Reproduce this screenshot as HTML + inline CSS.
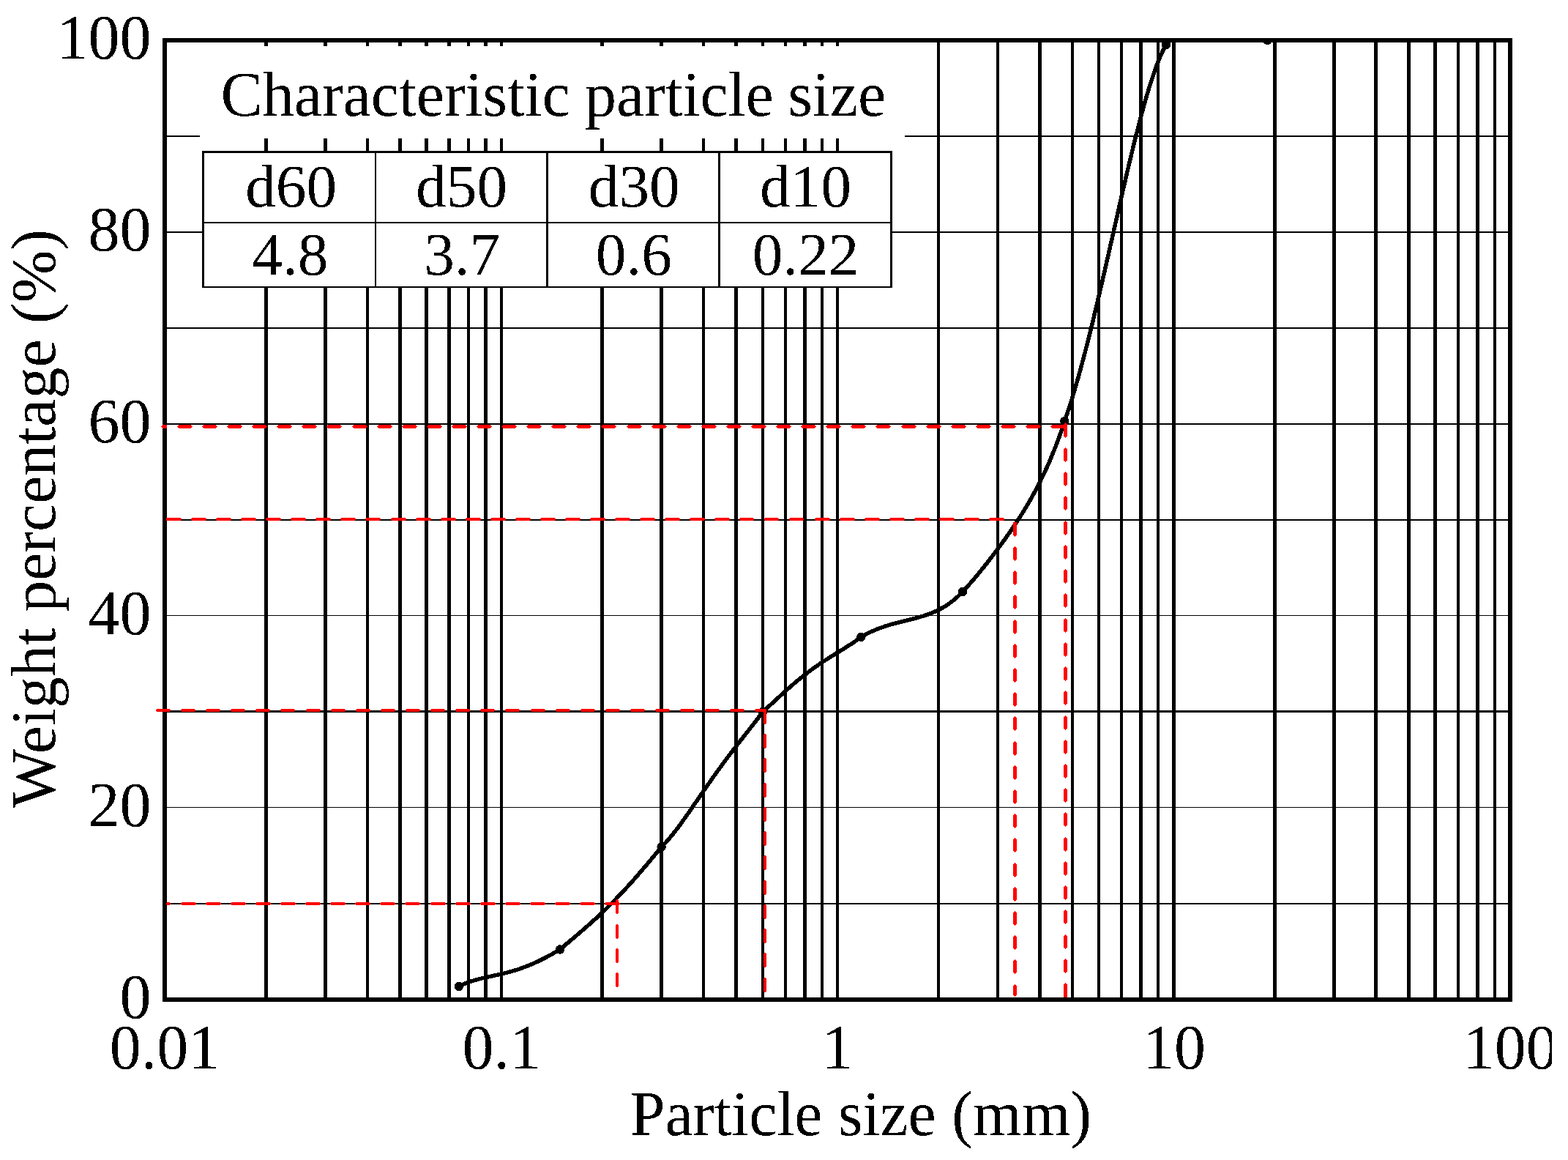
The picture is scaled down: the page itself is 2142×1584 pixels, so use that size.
<!DOCTYPE html>
<html lang="en"><head><meta charset="utf-8"><title>Particle size distribution curve</title>
<style>html,body{margin:0;padding:0;background:#fff;overflow:hidden}svg{display:block}text{font-family:"Liberation Serif","Times New Roman",Times,serif;fill:#000}</style>
</head><body>
<svg width="2142" height="1584" viewBox="0 0 2142 1584">
<rect x="0" y="0" width="2142" height="1584" fill="#fff"/>
<defs><filter id="bw" filterUnits="userSpaceOnUse" x="0" y="0" width="2142" height="1584" color-interpolation-filters="sRGB"><feComponentTransfer><feFuncA type="discrete" tableValues="0 1"/></feComponentTransfer></filter></defs>
<g fill="#000" shape-rendering="crispEdges">
<rect x="225" y="185" width="1838" height="2"/>
<rect x="225" y="316" width="1838" height="2"/>
<rect x="225" y="447" width="1838" height="2"/>
<rect x="225" y="578" width="1838" height="2"/>
<rect x="225" y="709" width="1838" height="2"/>
<rect x="225" y="840" width="1838" height="1"/>
<rect x="225" y="970" width="1838" height="3"/>
<rect x="225" y="1102" width="1838" height="1"/>
<rect x="225" y="1233" width="1838" height="2"/>
<rect x="361" y="55" width="5" height="1310"/>
<rect x="442" y="55" width="5" height="1310"/>
<rect x="500" y="55" width="4" height="1310"/>
<rect x="544" y="55" width="5" height="1310"/>
<rect x="580" y="55" width="5" height="1310"/>
<rect x="611" y="55" width="5" height="1310"/>
<rect x="638" y="55" width="4" height="1310"/>
<rect x="661" y="55" width="5" height="1310"/>
<rect x="683" y="55" width="4" height="1310"/>
<rect x="820" y="55" width="5" height="1310"/>
<rect x="901" y="55" width="5" height="1310"/>
<rect x="959" y="55" width="4" height="1310"/>
<rect x="1003" y="55" width="5" height="1310"/>
<rect x="1040" y="55" width="4" height="1310"/>
<rect x="1071" y="55" width="4" height="1310"/>
<rect x="1097" y="55" width="5" height="1310"/>
<rect x="1121" y="55" width="4" height="1310"/>
<rect x="1142" y="55" width="4" height="1310"/>
<rect x="1280" y="55" width="4" height="1310"/>
<rect x="1361" y="55" width="4" height="1310"/>
<rect x="1418" y="55" width="5" height="1310"/>
<rect x="1463" y="55" width="4" height="1310"/>
<rect x="1499" y="55" width="4" height="1310"/>
<rect x="1530" y="55" width="4" height="1310"/>
<rect x="1556" y="55" width="5" height="1310"/>
<rect x="1580" y="55" width="4" height="1310"/>
<rect x="1601" y="55" width="5" height="1310"/>
<rect x="1739" y="55" width="5" height="1310"/>
<rect x="1820" y="55" width="5" height="1310"/>
<rect x="1877" y="55" width="5" height="1310"/>
<rect x="1922" y="55" width="5" height="1310"/>
<rect x="1958" y="55" width="5" height="1310"/>
<rect x="1990" y="55" width="4" height="1310"/>
<rect x="2016" y="55" width="5" height="1310"/>
<rect x="2040" y="55" width="4" height="1310"/>
<rect x="222" y="52" width="6" height="1316"/>
<rect x="2060" y="52" width="6" height="1316"/>
<rect x="222" y="52" width="1844" height="6"/>
<rect x="222" y="1362" width="1844" height="6"/>
</g>
<clipPath id="plotclip"><rect x="222" y="52" width="1844" height="1316"/></clipPath>
<g clip-path="url(#plotclip)" shape-rendering="crispEdges">
<polyline points="626.8,1347.0 628.1,1346.3 629.5,1345.7 630.8,1345.0 632.2,1344.4 633.6,1343.8 635.0,1343.2 636.3,1342.7 637.7,1342.1 639.1,1341.6 640.6,1341.1 642.0,1340.6 643.4,1340.1 644.8,1339.7 646.3,1339.2 647.7,1338.8 649.1,1338.4 650.6,1338.0 652.0,1337.6 653.5,1337.2 654.9,1336.8 656.4,1336.5 657.8,1336.1 659.3,1335.7 660.7,1335.4 662.2,1335.1 663.7,1334.7 665.1,1334.4 666.6,1334.1 668.1,1333.7 669.5,1333.4 671.0,1333.1 672.4,1332.8 673.9,1332.5 675.4,1332.1 676.8,1331.8 678.3,1331.5 679.8,1331.2 681.2,1330.8 682.7,1330.5 684.2,1330.1 685.6,1329.8 687.1,1329.5 688.5,1329.1 690.0,1328.7 691.4,1328.4 692.9,1328.0 694.3,1327.6 695.8,1327.2 697.2,1326.8 698.7,1326.4 700.1,1326.0 701.6,1325.6 703.0,1325.1 704.4,1324.7 705.9,1324.3 707.3,1323.8 708.7,1323.3 710.2,1322.9 711.6,1322.4 713.0,1321.9 714.4,1321.4 715.8,1320.8 717.2,1320.3 718.6,1319.8 720.0,1319.2 721.4,1318.7 722.8,1318.1 724.2,1317.6 725.6,1317.0 727.0,1316.4 728.3,1315.8 729.7,1315.2 731.1,1314.6 732.4,1313.9 733.8,1313.3 735.2,1312.7 736.5,1312.0 737.9,1311.4 739.2,1310.7 740.6,1310.0 741.9,1309.3 743.2,1308.7 744.6,1308.0 745.9,1307.3 747.2,1306.6 748.5,1305.9 749.9,1305.1 751.2,1304.4 752.5,1303.7 753.8,1303.0 755.1,1302.2 756.4,1301.5 757.7,1300.8 759.0,1300.0 760.3,1299.3 761.6,1298.5 762.9,1297.8 764.2,1297.0 765.5,1296.1 766.7,1295.2 767.8,1294.2 768.9,1293.2 770.1,1292.2 771.2,1291.3 772.3,1290.3 773.5,1289.3 774.6,1288.3 775.8,1287.4 776.9,1286.4 778.1,1285.4 779.2,1284.4 780.3,1283.5 781.5,1282.5 782.6,1281.5 783.8,1280.6 784.9,1279.6 786.1,1278.6 787.2,1277.7 788.4,1276.7 789.5,1275.7 790.6,1274.7 791.8,1273.8 792.9,1272.8 794.1,1271.8 795.2,1270.8 796.3,1269.8 797.5,1268.9 798.6,1267.9 799.7,1266.9 800.9,1265.9 802.0,1264.9 803.1,1263.9 804.2,1262.9 805.4,1261.9 806.5,1260.9 807.6,1259.9 808.7,1258.9 809.8,1257.9 810.9,1256.9 812.1,1255.9 813.2,1254.9 814.3,1253.9 815.4,1252.9 816.5,1251.9 817.6,1250.8 818.7,1249.8 819.8,1248.8 820.9,1247.8 822.0,1246.7 823.1,1245.7 824.1,1244.7 825.2,1243.6 826.3,1242.6 827.4,1241.6 828.5,1240.5 829.5,1239.5 830.6,1238.4 831.7,1237.4 832.8,1236.3 833.8,1235.3 834.9,1234.2 835.9,1233.1 837.0,1232.1 838.1,1231.0 839.1,1229.9 840.2,1228.9 841.2,1227.8 842.2,1226.7 843.3,1225.6 844.3,1224.5 845.4,1223.5 846.4,1222.4 847.4,1221.3 848.5,1220.2 849.5,1219.1 850.5,1218.0 851.5,1216.9 852.6,1215.8 853.6,1214.7 854.6,1213.6 855.6,1212.5 856.6,1211.4 857.6,1210.3 858.7,1209.2 859.7,1208.1 860.7,1206.9 861.7,1205.8 862.7,1204.7 863.7,1203.6 864.7,1202.5 865.7,1201.4 866.7,1200.2 867.6,1199.1 868.6,1198.0 869.6,1196.8 870.6,1195.7 871.6,1194.6 872.6,1193.4 873.6,1192.3 874.5,1191.2 875.5,1190.0 876.5,1188.9 877.5,1187.8 878.4,1186.6 879.4,1185.5 880.4,1184.3 881.4,1183.2 882.3,1182.0 883.3,1180.9 884.3,1179.7 885.2,1178.6 886.2,1177.5 887.2,1176.3 888.1,1175.2 889.1,1174.0 890.0,1172.8 891.0,1171.7 892.0,1170.5 892.9,1169.4 893.9,1168.2 894.8,1167.1 895.8,1165.9 896.8,1164.8 897.7,1163.6 898.7,1162.5 899.6,1161.3 900.6,1160.1 901.5,1159.0 902.5,1157.8 903.4,1156.7 904.5,1155.6 905.6,1154.5 906.6,1153.5 907.7,1152.4 908.7,1151.3 909.7,1150.2 910.7,1149.1 911.7,1147.9 912.7,1146.8 913.7,1145.7 914.7,1144.5 915.7,1143.4 916.6,1142.2 917.6,1141.1 918.5,1139.9 919.5,1138.7 920.4,1137.5 921.3,1136.4 922.2,1135.2 923.2,1134.0 924.1,1132.8 925.0,1131.6 925.9,1130.4 926.8,1129.2 927.7,1128.0 928.6,1126.8 929.5,1125.6 930.3,1124.4 931.2,1123.2 932.1,1121.9 933.0,1120.7 933.8,1119.5 934.7,1118.3 935.6,1117.1 936.5,1115.8 937.3,1114.6 938.2,1113.4 939.0,1112.2 939.9,1110.9 940.8,1109.7 941.6,1108.5 942.5,1107.2 943.3,1106.0 944.2,1104.8 945.0,1103.5 945.9,1102.3 946.7,1101.1 947.6,1099.8 948.4,1098.6 949.3,1097.3 950.1,1096.1 951.0,1094.9 951.8,1093.6 952.7,1092.4 953.5,1091.2 954.4,1089.9 955.2,1088.7 956.1,1087.4 956.9,1086.2 957.8,1085.0 958.6,1083.7 959.5,1082.5 960.3,1081.3 961.2,1080.0 962.0,1078.8 962.9,1077.6 963.7,1076.3 964.6,1075.1 965.4,1073.9 966.3,1072.6 967.1,1071.4 968.0,1070.2 968.9,1068.9 969.7,1067.7 970.6,1066.5 971.4,1065.3 972.3,1064.0 973.2,1062.8 974.0,1061.6 974.9,1060.4 975.8,1059.1 976.6,1057.9 977.5,1056.7 978.4,1055.5 979.3,1054.2 980.1,1053.0 981.0,1051.8 981.9,1050.6 982.8,1049.4 983.7,1048.2 984.5,1047.0 985.4,1045.8 986.3,1044.5 987.2,1043.3 988.1,1042.1 989.0,1040.9 989.9,1039.7 990.8,1038.5 991.7,1037.3 992.6,1036.1 993.5,1034.9 994.4,1033.7 995.3,1032.5 996.2,1031.3 997.1,1030.1 998.0,1028.9 998.9,1027.7 999.8,1026.5 1000.7,1025.4 1001.6,1024.2 1002.5,1023.0 1003.5,1021.8 1004.4,1020.6 1005.3,1019.4 1006.2,1018.2 1007.1,1017.0 1008.1,1015.9 1009.0,1014.7 1009.9,1013.5 1010.8,1012.3 1011.7,1011.1 1012.7,1010.0 1013.6,1008.8 1014.5,1007.6 1015.5,1006.4 1016.4,1005.2 1017.3,1004.1 1018.2,1002.9 1019.2,1001.7 1020.1,1000.5 1021.0,999.3 1021.9,998.2 1022.9,997.0 1023.8,995.8 1024.7,994.6 1025.6,993.4 1026.6,992.3 1027.5,991.1 1028.4,989.9 1029.3,988.7 1030.3,987.5 1031.2,986.3 1032.1,985.2 1033.0,984.0 1033.9,982.8 1034.8,981.6 1035.7,980.4 1036.6,979.2 1037.5,978.0 1038.4,976.8 1039.3,975.6 1040.2,974.4 1041.1,973.2 1042.0,972.0 1043.1,971.0 1044.3,970.0 1045.4,969.0 1046.5,968.0 1047.6,967.0 1048.7,965.9 1049.8,964.9 1050.9,963.9 1052.0,962.9 1053.1,961.9 1054.2,960.9 1055.3,959.9 1056.4,958.8 1057.5,957.8 1058.6,956.8 1059.7,955.8 1060.8,954.8 1061.9,953.8 1063.1,952.7 1064.2,951.7 1065.3,950.7 1066.4,949.7 1067.5,948.7 1068.6,947.7 1069.7,946.7 1070.8,945.7 1071.9,944.7 1073.0,943.7 1074.2,942.7 1075.3,941.7 1076.4,940.7 1077.5,939.7 1078.6,938.7 1079.8,937.7 1080.9,936.7 1082.0,935.7 1083.2,934.7 1084.3,933.8 1085.4,932.8 1086.6,931.8 1087.7,930.9 1088.9,929.9 1090.0,928.9 1091.2,928.0 1092.4,927.0 1093.5,926.1 1094.7,925.2 1095.9,924.2 1097.0,923.3 1098.2,922.4 1099.4,921.4 1100.6,920.5 1101.8,919.6 1103.0,918.7 1104.1,917.8 1105.3,916.9 1106.5,916.0 1107.8,915.1 1109.0,914.2 1110.2,913.3 1111.4,912.5 1112.6,911.6 1113.8,910.7 1115.1,909.9 1116.3,909.0 1117.5,908.2 1118.8,907.3 1120.0,906.5 1121.2,905.6 1122.5,904.8 1123.7,904.0 1125.0,903.1 1126.3,902.3 1127.5,901.5 1128.8,900.7 1130.0,899.9 1131.3,899.1 1132.6,898.3 1133.8,897.5 1135.1,896.7 1136.4,895.9 1137.6,895.1 1138.9,894.3 1140.2,893.5 1141.5,892.7 1142.7,891.9 1144.0,891.2 1145.3,890.4 1146.6,889.6 1147.9,888.8 1149.1,888.0 1150.4,887.2 1151.7,886.4 1153.0,885.6 1154.2,884.8 1155.5,884.0 1156.8,883.2 1158.0,882.4 1159.3,881.6 1160.6,880.8 1161.8,880.0 1163.1,879.2 1164.3,878.4 1165.6,877.5 1166.8,876.7 1168.1,875.8 1169.3,875.0 1170.5,874.1 1171.8,873.2 1173.0,872.4 1174.2,871.5 1175.4,870.6 1176.6,869.7 1177.9,868.9 1179.2,868.2 1180.5,867.5 1181.8,866.8 1183.1,866.1 1184.5,865.4 1185.8,864.7 1187.1,864.0 1188.5,863.4 1189.8,862.7 1191.2,862.1 1192.6,861.5 1193.9,860.9 1195.3,860.3 1196.7,859.7 1198.1,859.2 1199.5,858.6 1200.9,858.1 1202.3,857.6 1203.7,857.1 1205.1,856.6 1206.5,856.1 1208.0,855.6 1209.4,855.1 1210.8,854.7 1212.2,854.2 1213.7,853.8 1215.1,853.4 1216.5,852.9 1218.0,852.5 1219.4,852.1 1220.9,851.7 1222.3,851.3 1223.8,850.9 1225.2,850.6 1226.7,850.2 1228.1,849.8 1229.6,849.4 1231.0,849.1 1232.5,848.7 1234.0,848.4 1235.4,848.0 1236.9,847.7 1238.3,847.3 1239.8,846.9 1241.2,846.6 1242.7,846.2 1244.1,845.9 1245.6,845.5 1247.1,845.1 1248.5,844.7 1250.0,844.4 1251.4,844.0 1252.9,843.6 1254.3,843.2 1255.7,842.8 1257.2,842.4 1258.6,841.9 1260.1,841.5 1261.5,841.1 1262.9,840.6 1264.4,840.1 1265.8,839.6 1267.2,839.1 1268.6,838.6 1270.0,838.1 1271.4,837.6 1272.8,837.0 1274.2,836.5 1275.6,835.9 1277.0,835.3 1278.3,834.7 1279.7,834.0 1281.0,833.4 1282.4,832.7 1283.7,832.0 1285.1,831.3 1286.4,830.6 1287.7,829.8 1289.0,829.1 1290.3,828.3 1291.6,827.5 1292.8,826.7 1294.1,825.9 1295.3,825.0 1296.6,824.2 1297.8,823.3 1299.0,822.4 1300.2,821.5 1301.4,820.6 1302.5,819.6 1303.7,818.7 1304.8,817.7 1306.0,816.7 1307.1,815.7 1308.2,814.7 1309.3,813.7 1310.4,812.6 1311.5,811.6 1312.5,810.5 1313.6,809.4 1314.6,808.3 1315.6,807.3 1316.7,806.2 1317.7,805.1 1318.7,804.0 1319.7,802.9 1320.7,801.8 1321.8,800.7 1322.8,799.5 1323.8,798.4 1324.8,797.3 1325.7,796.2 1326.7,795.0 1327.7,793.9 1328.7,792.8 1329.7,791.6 1330.7,790.5 1331.6,789.3 1332.6,788.2 1333.6,787.1 1334.5,785.9 1335.5,784.7 1336.4,783.6 1337.4,782.4 1338.3,781.3 1339.3,780.1 1340.2,778.9 1341.2,777.8 1342.1,776.6 1343.1,775.4 1344.0,774.3 1344.9,773.1 1345.9,771.9 1346.8,770.7 1347.7,769.6 1348.7,768.4 1349.6,767.2 1350.5,766.0 1351.4,764.8 1352.3,763.6 1353.3,762.5 1354.2,761.3 1355.1,760.1 1356.0,758.9 1356.9,757.7 1357.8,756.5 1358.7,755.3 1359.6,754.1 1360.5,752.9 1361.4,751.7 1362.3,750.5 1363.2,749.3 1364.1,748.1 1365.0,746.9 1365.9,745.7 1366.8,744.5 1367.7,743.3 1368.6,742.0 1369.4,740.8 1370.3,739.6 1371.2,738.4 1372.1,737.2 1372.9,736.0 1373.8,734.7 1374.7,733.5 1375.6,732.3 1376.4,731.1 1377.3,729.8 1378.1,728.6 1379.0,727.4 1379.9,726.1 1380.7,724.9 1381.6,723.7 1382.4,722.4 1383.2,721.2 1384.1,719.9 1384.9,718.7 1385.8,717.5 1386.6,716.2 1387.4,715.0 1388.3,713.7 1389.1,712.5 1389.9,711.2 1390.7,709.9 1391.5,708.7 1392.4,707.4 1393.2,706.2 1394.0,704.9 1394.8,703.6 1395.6,702.4 1396.4,701.1 1397.2,699.8 1398.0,698.5 1398.8,697.3 1399.5,696.0 1400.3,694.7 1401.1,693.4 1401.9,692.1 1402.6,690.8 1403.4,689.6 1404.2,688.3 1404.9,687.0 1405.7,685.7 1406.4,684.4 1407.2,683.1 1407.9,681.8 1408.7,680.5 1409.4,679.2 1410.1,677.8 1410.9,676.5 1411.6,675.2 1412.3,673.9 1413.0,672.6 1413.8,671.3 1414.5,669.9 1415.2,668.6 1415.9,667.3 1416.6,666.0 1417.3,664.6 1418.0,663.3 1418.6,662.0 1419.3,660.6 1420.0,659.3 1420.7,658.0 1421.4,656.6 1422.0,655.3 1422.7,653.9 1423.4,652.6 1424.0,651.2 1424.7,649.9 1425.3,648.5 1426.0,647.2 1426.6,645.8 1427.2,644.5 1427.9,643.1 1428.5,641.7 1429.1,640.4 1429.7,639.0 1430.4,637.6 1431.0,636.3 1431.6,634.9 1432.2,633.5 1432.8,632.2 1433.4,630.8 1434.0,629.4 1434.6,628.0 1435.2,626.6 1435.7,625.3 1436.3,623.9 1436.9,622.5 1437.5,621.1 1438.0,619.7 1438.6,618.3 1439.2,616.9 1439.7,615.5 1440.3,614.2 1440.8,612.8 1441.4,611.4 1441.9,610.0 1442.5,608.6 1443.0,607.2 1443.5,605.8 1444.1,604.4 1444.6,603.0 1445.1,601.6 1445.6,600.2 1446.2,598.7 1446.7,597.3 1447.2,595.9 1447.7,594.5 1448.2,593.1 1448.7,591.7 1449.2,590.3 1449.7,588.9 1450.2,587.5 1450.7,586.0 1451.2,584.6 1451.7,583.2 1452.1,581.8 1452.6,580.4 1453.1,578.9 1453.6,577.5 1454.0,576.1 1454.5,574.7 1455.0,573.3 1455.5,571.9 1456.0,570.4 1456.5,569.0 1456.9,567.6 1457.4,566.2 1457.9,564.8 1458.4,563.3 1458.8,561.9 1459.3,560.5 1459.8,559.1 1460.2,557.6 1460.7,556.2 1461.2,554.8 1461.6,553.4 1462.1,551.9 1462.5,550.5 1463.0,549.1 1463.4,547.6 1463.9,546.2 1464.3,544.8 1464.7,543.3 1465.2,541.9 1465.6,540.5 1466.1,539.0 1466.5,537.6 1466.9,536.2 1467.3,534.7 1467.8,533.3 1468.2,531.9 1468.6,530.4 1469.0,529.0 1469.5,527.6 1469.9,526.1 1470.3,524.7 1470.7,523.2 1471.1,521.8 1471.5,520.4 1471.9,518.9 1472.4,517.5 1472.8,516.0 1473.2,514.6 1473.6,513.1 1474.0,511.7 1474.4,510.3 1474.8,508.8 1475.2,507.4 1475.6,505.9 1476.0,504.5 1476.4,503.0 1476.8,501.6 1477.2,500.1 1477.5,498.7 1477.9,497.2 1478.3,495.8 1478.7,494.3 1479.1,492.9 1479.5,491.4 1479.9,490.0 1480.3,488.6 1480.6,487.1 1481.0,485.7 1481.4,484.2 1481.8,482.8 1482.2,481.3 1482.5,479.9 1482.9,478.4 1483.3,477.0 1483.7,475.5 1484.0,474.0 1484.4,472.6 1484.8,471.1 1485.1,469.7 1485.5,468.2 1485.9,466.8 1486.3,465.3 1486.6,463.9 1487.0,462.4 1487.4,461.0 1487.7,459.5 1488.1,458.1 1488.4,456.6 1488.8,455.2 1489.2,453.7 1489.5,452.2 1489.9,450.8 1490.3,449.3 1490.6,447.9 1491.0,446.4 1491.3,445.0 1491.7,443.5 1492.0,442.1 1492.4,440.6 1492.8,439.1 1493.1,437.7 1493.5,436.2 1493.8,434.8 1494.2,433.3 1494.5,431.9 1494.9,430.4 1495.2,428.9 1495.6,427.5 1495.9,426.0 1496.3,424.6 1496.6,423.1 1497.0,421.7 1497.3,420.2 1497.7,418.7 1498.0,417.3 1498.4,415.8 1498.7,414.4 1499.1,412.9 1499.4,411.4 1499.7,410.0 1500.1,408.5 1500.4,407.1 1500.8,405.6 1501.1,404.2 1501.5,402.7 1501.8,401.2 1502.1,399.8 1502.5,398.3 1502.8,396.9 1503.2,395.4 1503.5,393.9 1503.8,392.5 1504.2,391.0 1504.5,389.5 1504.9,388.1 1505.2,386.6 1505.5,385.2 1505.9,383.7 1506.2,382.2 1506.5,380.8 1506.9,379.3 1507.2,377.9 1507.6,376.4 1507.9,374.9 1508.2,373.5 1508.6,372.0 1508.9,370.6 1509.2,369.1 1509.6,367.6 1509.9,366.2 1510.2,364.7 1510.6,363.2 1510.9,361.8 1511.2,360.3 1511.6,358.9 1511.9,357.4 1512.2,355.9 1512.6,354.5 1512.9,353.0 1513.2,351.5 1513.6,350.1 1513.9,348.6 1514.2,347.2 1514.6,345.7 1514.9,344.2 1515.2,342.8 1515.6,341.3 1515.9,339.8 1516.2,338.4 1516.6,336.9 1516.9,335.5 1517.2,334.0 1517.5,332.5 1517.9,331.1 1518.2,329.6 1518.5,328.1 1518.9,326.7 1519.2,325.2 1519.5,323.8 1519.9,322.3 1520.2,320.8 1520.5,319.4 1520.9,317.9 1521.2,316.4 1521.5,315.0 1521.8,313.5 1522.2,312.0 1522.5,310.6 1522.8,309.1 1523.2,307.7 1523.5,306.2 1523.8,304.7 1524.2,303.3 1524.5,301.8 1524.8,300.3 1525.2,298.9 1525.5,297.4 1525.8,296.0 1526.2,294.5 1526.5,293.0 1526.8,291.6 1527.1,290.1 1527.5,288.6 1527.8,287.2 1528.1,285.7 1528.5,284.3 1528.8,282.8 1529.1,281.3 1529.5,279.9 1529.8,278.4 1530.1,276.9 1530.5,275.5 1530.8,274.0 1531.1,272.5 1531.5,271.1 1531.8,269.6 1532.1,268.2 1532.5,266.7 1532.8,265.2 1533.2,263.8 1533.5,262.3 1533.8,260.8 1534.2,259.4 1534.5,257.9 1534.8,256.5 1535.2,255.0 1535.5,253.5 1535.8,252.1 1536.2,250.6 1536.5,249.2 1536.9,247.7 1537.2,246.2 1537.5,244.8 1537.9,243.3 1538.2,241.8 1538.6,240.4 1538.9,238.9 1539.2,237.5 1539.6,236.0 1539.9,234.5 1540.3,233.1 1540.6,231.6 1541.0,230.2 1541.3,228.7 1541.7,227.2 1542.0,225.8 1542.3,224.3 1542.7,222.9 1543.0,221.4 1543.4,219.9 1543.7,218.5 1544.1,217.0 1544.4,215.6 1544.8,214.1 1545.1,212.6 1545.5,211.2 1545.8,209.7 1546.2,208.3 1546.5,206.8 1546.9,205.3 1547.3,203.9 1547.6,202.4 1548.0,201.0 1548.3,199.5 1548.7,198.0 1549.0,196.6 1549.4,195.1 1549.8,193.7 1550.1,192.2 1550.5,190.8 1550.9,189.3 1551.2,187.8 1551.6,186.4 1551.9,184.9 1552.3,183.5 1552.7,182.0 1553.1,180.6 1553.4,179.1 1553.8,177.7 1554.2,176.2 1554.5,174.8 1554.9,173.3 1555.3,171.8 1555.7,170.4 1556.0,168.9 1556.4,167.5 1556.8,166.0 1557.2,164.6 1557.6,163.1 1558.0,161.7 1558.3,160.2 1558.7,158.8 1559.1,157.3 1559.5,155.9 1559.9,154.4 1560.3,153.0 1560.7,151.5 1561.1,150.1 1561.5,148.6 1561.9,147.2 1562.3,145.7 1562.7,144.3 1563.1,142.8 1563.5,141.4 1563.9,140.0 1564.3,138.5 1564.7,137.1 1565.1,135.6 1565.6,134.2 1566.0,132.7 1566.4,131.3 1566.8,129.9 1567.2,128.4 1567.7,127.0 1568.1,125.5 1568.5,124.1 1569.0,122.7 1569.4,121.2 1569.8,119.8 1570.3,118.4 1570.7,116.9 1571.2,115.5 1571.6,114.1 1572.1,112.6 1572.6,111.2 1573.0,109.8 1573.5,108.3 1574.0,106.9 1574.4,105.5 1574.9,104.1 1575.4,102.6 1575.9,101.2 1576.4,99.8 1576.9,98.4 1577.4,97.0 1577.9,95.6 1578.4,94.1 1578.9,92.7 1579.4,91.3 1579.9,89.9 1580.5,88.5 1581.0,87.1 1581.5,85.7 1582.1,84.3 1582.6,82.9 1583.2,81.5 1583.8,80.1 1584.3,78.8 1584.9,77.4 1585.5,76.0 1586.1,74.6 1586.8,73.3 1587.4,71.9 1588.0,70.5 1588.7,69.2 1589.3,67.8 1590.0,66.5 1590.7,65.2 1591.4,63.9 1592.1,62.5 1592.9,61.2 1593.0,61.0" fill="none" stroke="#000" stroke-width="5.5" stroke-linejoin="round" stroke-linecap="round"/>
<circle cx="626.8" cy="1347.0" r="6.2" fill="#000"/>
<circle cx="765.1" cy="1296.5" r="6.2" fill="#000"/>
<circle cx="903.6" cy="1156.5" r="6.2" fill="#000"/>
<circle cx="1042" cy="972" r="6.2" fill="#000"/>
<circle cx="1176.4" cy="869.8" r="6.2" fill="#000"/>
<circle cx="1315.1" cy="807.8" r="6.2" fill="#000"/>
<circle cx="1454.4" cy="575" r="6.2" fill="#000"/>
<circle cx="1593" cy="61" r="6.2" fill="#000"/>
<circle cx="1731.4" cy="55" r="6.2" fill="#000"/>
</g>
<g fill="#f00" shape-rendering="crispEdges">
<path d="M220,582.5 220,582.5 222.5,580 228,580 228,585 222.5,585Z M242,582.5 242,582.5 244.5,580 260.5,580 263,582.5 263,582.5 260.5,585 244.5,585Z M276,582.5 276,582.5 278.5,580 294.5,580 297,582.5 297,582.5 294.5,585 278.5,585Z M310,582.5 310,582.5 312.5,580 328.5,580 331,582.5 331,582.5 328.5,585 312.5,585Z M344,582.5 344,582.5 346.5,580 362.5,580 365,582.5 365,582.5 362.5,585 346.5,585Z M378,582.5 378,582.5 380.5,580 396.5,580 399,582.5 399,582.5 396.5,585 380.5,585Z M412,582.5 412,582.5 414.5,580 430.5,580 433,582.5 433,582.5 430.5,585 414.5,585Z M446,582.5 446,582.5 448.5,580 464.5,580 467,582.5 467,582.5 464.5,585 448.5,585Z M481,582.5 481,582.5 483.5,580 499.5,580 502,582.5 502,582.5 499.5,585 483.5,585Z M515,582.5 515,582.5 517.5,580 533.5,580 536,582.5 536,582.5 533.5,585 517.5,585Z M549,582.5 549,582.5 551.5,580 567.5,580 570,582.5 570,582.5 567.5,585 551.5,585Z M583,582.5 583,582.5 585.5,580 601.5,580 604,582.5 604,582.5 601.5,585 585.5,585Z M617,582.5 617,582.5 619.5,580 635.5,580 638,582.5 638,582.5 635.5,585 619.5,585Z M651,582.5 651,582.5 653.5,580 669.5,580 672,582.5 672,582.5 669.5,585 653.5,585Z M685,582.5 685,582.5 687.5,580 703.5,580 706,582.5 706,582.5 703.5,585 687.5,585Z M719,582.5 719,582.5 721.5,580 737.5,580 740,582.5 740,582.5 737.5,585 721.5,585Z M753,582.5 753,582.5 755.5,580 771.5,580 774,582.5 774,582.5 771.5,585 755.5,585Z M787,582.5 787,582.5 789.5,580 805.5,580 808,582.5 808,582.5 805.5,585 789.5,585Z M821,582.5 821,582.5 823.5,580 839.5,580 842,582.5 842,582.5 839.5,585 823.5,585Z M856,582.5 856,582.5 858.5,580 874.5,580 877,582.5 877,582.5 874.5,585 858.5,585Z M890,582.5 890,582.5 892.5,580 908.5,580 911,582.5 911,582.5 908.5,585 892.5,585Z M924,582.5 924,582.5 926.5,580 942.5,580 945,582.5 945,582.5 942.5,585 926.5,585Z M958,582.5 958,582.5 960.5,580 976.5,580 979,582.5 979,582.5 976.5,585 960.5,585Z M992,582.5 992,582.5 994.5,580 1010,580 1013,582.5 1013,582.5 1010,585 994.5,585Z M1026,582.5 1026,582.5 1028,580 1044,580 1047,582.5 1047,582.5 1044,585 1028,585Z M1060,582.5 1060,582.5 1062,580 1078,580 1081,582.5 1081,582.5 1078,585 1062,585Z M1094,582.5 1094,582.5 1096,580 1112,580 1115,582.5 1115,582.5 1112,585 1096,585Z M1128,582.5 1128,582.5 1130,580 1146,580 1149,582.5 1149,582.5 1146,585 1130,585Z M1162,582.5 1162,582.5 1164,580 1180,580 1183,582.5 1183,582.5 1180,585 1164,585Z M1196,582.5 1196,582.5 1198,580 1214,580 1217,582.5 1217,582.5 1214,585 1198,585Z M1231,582.5 1231,582.5 1234,580 1250,580 1252,582.5 1252,582.5 1250,585 1234,585Z M1265,582.5 1265,582.5 1268,580 1284,580 1286,582.5 1286,582.5 1284,585 1268,585Z M1299,582.5 1299,582.5 1302,580 1318,580 1320,582.5 1320,582.5 1318,585 1302,585Z M1333,582.5 1333,582.5 1336,580 1352,580 1354,582.5 1354,582.5 1352,585 1336,585Z M1367,582.5 1367,582.5 1370,580 1386,580 1388,582.5 1388,582.5 1386,585 1370,585Z M1401,582.5 1401,582.5 1404,580 1420,580 1422,582.5 1422,582.5 1420,585 1404,585Z M1435,582.5 1435,582.5 1438,580 1454,580 1456,582.5 1456,582.5 1454,585 1438,585Z"/>
<path d="M227,711 227,707 246.3,707 247.5,708.2 247.5,709.8 246.3,711Z M261,709.8 261,708.2 262.2,707 280.3,707 281.5,708.2 281.5,709.8 280.3,711 262.2,711Z M295,709.8 295,708.2 296.2,707 314.3,707 315.5,708.2 315.5,709.8 314.3,711 296.2,711Z M329,709.8 329,708.2 330.2,707 348.3,707 349.5,708.2 349.5,709.8 348.3,711 330.2,711Z M363,709.8 363,708.2 364.2,707 382.3,707 383.5,708.2 383.5,709.8 382.3,711 364.2,711Z M397,709.8 397,708.2 398.2,707 416.3,707 417.5,708.2 417.5,709.8 416.3,711 398.2,711Z M431,709.8 431,708.2 432.2,707 450.3,707 451.5,708.2 451.5,709.8 450.3,711 432.2,711Z M465,709.8 465,708.2 466.2,707 484.3,707 485.5,708.2 485.5,709.8 484.3,711 466.2,711Z M499,709.8 499,708.2 500.2,707 518.3,707 519.5,708.2 519.5,709.8 518.3,711 500.2,711Z M534,709.8 534,708.2 535.2,707 553.3,707 554.5,708.2 554.5,709.8 553.3,711 535.2,711Z M568,709.8 568,708.2 569.2,707 587.3,707 588.5,708.2 588.5,709.8 587.3,711 569.2,711Z M602,709.8 602,708.2 603.2,707 621.3,707 622.5,708.2 622.5,709.8 621.3,711 603.2,711Z M636,709.8 636,708.2 637.2,707 655.3,707 656.5,708.2 656.5,709.8 655.3,711 637.2,711Z M670,709.8 670,708.2 671.2,707 689.3,707 690.5,708.2 690.5,709.8 689.3,711 671.2,711Z M704,709.8 704,708.2 705.2,707 723.3,707 724.5,708.2 724.5,709.8 723.3,711 705.2,711Z M738,709.8 738,708.2 739.2,707 757.3,707 758.5,708.2 758.5,709.8 757.3,711 739.2,711Z M772,709.8 772,708.2 773.2,707 791.3,707 792.5,708.2 792.5,709.8 791.3,711 773.2,711Z M806,709.8 806,708.2 807.2,707 825.3,707 826.5,708.2 826.5,709.8 825.3,711 807.2,711Z M840,709.8 840,708.2 841.2,707 859.3,707 860.5,708.2 860.5,709.8 859.3,711 841.2,711Z M874,709.8 874,708.2 875.2,707 893.3,707 894.5,708.2 894.5,709.8 893.3,711 875.2,711Z M908,709.8 908,708.2 909.2,707 927.3,707 928.5,708.2 928.5,709.8 927.3,711 909.2,711Z M942,709.8 942,708.2 943.2,707 961.3,707 962.5,708.2 962.5,709.8 961.3,711 943.2,711Z M976,709.8 976,708.2 977.2,707 995.3,707 996.5,708.2 996.5,709.8 995.3,711 977.2,711Z M1010,709.8 1010,708.2 1011,707 1029,707 1030,708.2 1030,709.8 1029,711 1011,711Z M1044,709.8 1044,708.2 1045,707 1063,707 1064,708.2 1064,709.8 1063,711 1045,711Z M1078,709.8 1078,708.2 1079,707 1097,707 1098,708.2 1098,709.8 1097,711 1079,711Z M1113,709.8 1113,708.2 1114,707 1132,707 1134,708.2 1134,709.8 1132,711 1114,711Z M1147,709.8 1147,708.2 1148,707 1166,707 1168,708.2 1168,709.8 1166,711 1148,711Z M1181,709.8 1181,708.2 1182,707 1200,707 1202,708.2 1202,709.8 1200,711 1182,711Z M1215,709.8 1215,708.2 1216,707 1234,707 1236,708.2 1236,709.8 1234,711 1216,711Z M1249,709.8 1249,708.2 1250,707 1268,707 1270,708.2 1270,709.8 1268,711 1250,711Z M1283,709.8 1283,708.2 1284,707 1302,707 1304,708.2 1304,709.8 1302,711 1284,711Z M1317,709.8 1317,708.2 1318,707 1336,707 1338,708.2 1338,709.8 1336,711 1318,711Z M1351,709.8 1351,708.2 1352,707 1370,707 1372,708.2 1372,709.8 1370,711 1352,711Z"/>
<path d="M212,970 212,970 214,968 231,968 233,970 233,970 231,972 214,972Z M246,970 246,970 248,968 265,968 267,970 267,970 265,972 248,972Z M280,970 280,970 282,968 299,968 301,970 301,970 299,972 282,972Z M314,970 314,970 316,968 333,968 335,970 335,970 333,972 316,972Z M348,970 348,970 350,968 367,968 369,970 369,970 367,972 350,972Z M382,970 382,970 384,968 401,968 403,970 403,970 401,972 384,972Z M417,970 417,970 419,968 436,968 438,970 438,970 436,972 419,972Z M451,970 451,970 453,968 470,968 472,970 472,970 470,972 453,972Z M485,970 485,970 487,968 504,968 506,970 506,970 504,972 487,972Z M519,970 519,970 521,968 538,968 540,970 540,970 538,972 521,972Z M553,970 553,970 555,968 572,968 574,970 574,970 572,972 555,972Z M587,970 587,970 589,968 606,968 608,970 608,970 606,972 589,972Z M621,970 621,970 623,968 640,968 642,970 642,970 640,972 623,972Z M655,970 655,970 657,968 674,968 676,970 676,970 674,972 657,972Z M689,970 689,970 691,968 708,968 710,970 710,970 708,972 691,972Z M724,970 724,970 726,968 743,968 745,970 745,970 743,972 726,972Z M758,970 758,970 760,968 777,968 779,970 779,970 777,972 760,972Z M792,970 792,970 794,968 811,968 813,970 813,970 811,972 794,972Z M826,970 826,970 828,968 845,968 847,970 847,970 845,972 828,972Z M860,970 860,970 862,968 879,968 881,970 881,970 879,972 862,972Z M894,970 894,970 896,968 913,968 915,970 915,970 913,972 896,972Z M928,970 928,970 930,968 947,968 949,970 949,970 947,972 930,972Z M962,970 962,970 964,968 981,968 983,970 983,970 981,972 964,972Z M996,970 996,970 998,968 1015,968 1017,970 1017,970 1015,972 998,972Z M1030,970 1030,970 1032,968 1047,968 1047,972 1032,972Z"/>
<path d="M227,1235 227,1233 228.2,1232 231.8,1232 233,1233 233,1235 231.8,1236 228.2,1236Z M247,1235 247,1233 248.2,1232 266.3,1232 267.5,1233 267.5,1235 266.3,1236 248.2,1236Z M281,1235 281,1233 282.2,1232 300.3,1232 301.5,1233 301.5,1235 300.3,1236 282.2,1236Z M315,1235 315,1233 316.2,1232 334.3,1232 335.5,1233 335.5,1235 334.3,1236 316.2,1236Z M349,1235 349,1233 350.2,1232 368.3,1232 369.5,1233 369.5,1235 368.3,1236 350.2,1236Z M383,1235 383,1233 384.2,1232 402.3,1232 403.5,1233 403.5,1235 402.3,1236 384.2,1236Z M417,1235 417,1233 418.2,1232 436.3,1232 437.5,1233 437.5,1235 436.3,1236 418.2,1236Z M451,1235 451,1233 452.2,1232 470.3,1232 471.5,1233 471.5,1235 470.3,1236 452.2,1236Z M485,1235 485,1233 486.2,1232 504.3,1232 505.5,1233 505.5,1235 504.3,1236 486.2,1236Z M519,1235 519,1233 520.2,1232 538.3,1232 539.5,1233 539.5,1235 538.3,1236 520.2,1236Z M553,1235 553,1233 554.2,1232 572.3,1232 573.5,1233 573.5,1235 572.3,1236 554.2,1236Z M588,1235 588,1233 589.2,1232 607.3,1232 608.5,1233 608.5,1235 607.3,1236 589.2,1236Z M622,1235 622,1233 623.2,1232 641.3,1232 642.5,1233 642.5,1235 641.3,1236 623.2,1236Z M656,1235 656,1233 657.2,1232 675.3,1232 676.5,1233 676.5,1235 675.3,1236 657.2,1236Z M690,1235 690,1233 691.2,1232 709.3,1232 710.5,1233 710.5,1235 709.3,1236 691.2,1236Z M724,1235 724,1233 725.2,1232 743.3,1232 744.5,1233 744.5,1235 743.3,1236 725.2,1236Z M758,1235 758,1233 759.2,1232 777.3,1232 778.5,1233 778.5,1235 777.3,1236 759.2,1236Z M792,1235 792,1233 793.2,1232 811.3,1232 812.5,1233 812.5,1235 811.3,1236 793.2,1236Z M826,1235 826,1233 827.2,1232 845.3,1232 846.5,1233 846.5,1235 845.3,1236 827.2,1236Z"/>
<path d="M1455.5,577 1455.5,577 1458,579.5 1458,595.5 1455.5,598 1455.5,598 1453,595.5 1453,579.5Z M1455.5,611 1455.5,611 1458,613.5 1458,628.8 1455.5,631.3 1455.5,631.3 1453,628.8 1453,613.5Z M1455.5,644 1455.5,644 1458,646.5 1458,661.8 1455.5,664.3 1455.5,664.3 1453,661.8 1453,646.5Z M1455.5,677 1455.5,677 1458,679.5 1458,694.8 1455.5,697.3 1455.5,697.3 1453,694.8 1453,679.5Z M1455.5,711 1455.5,711 1458,713.5 1458,728.8 1455.5,731.3 1455.5,731.3 1453,728.8 1453,713.5Z M1455.5,744 1455.5,744 1458,746.5 1458,761.8 1455.5,764.3 1455.5,764.3 1453,761.8 1453,746.5Z M1455.5,777 1455.5,777 1458,779.5 1458,794.8 1455.5,797.3 1455.5,797.3 1453,794.8 1453,779.5Z M1455.5,810 1455.5,810 1458,812.5 1458,827.8 1455.5,830.3 1455.5,830.3 1453,827.8 1453,812.5Z M1455.5,844 1455.5,844 1458,846.5 1458,861.8 1455.5,864.3 1455.5,864.3 1453,861.8 1453,846.5Z M1455.5,877 1455.5,877 1458,879.5 1458,894.8 1455.5,897.3 1455.5,897.3 1453,894.8 1453,879.5Z M1455.5,910 1455.5,910 1458,912.5 1458,927.8 1455.5,930.3 1455.5,930.3 1453,927.8 1453,912.5Z M1455.5,943 1455.5,943 1458,945.5 1458,960.8 1455.5,963.3 1455.5,963.3 1453,960.8 1453,945.5Z M1455.5,977 1455.5,977 1458,979.5 1458,994.8 1455.5,997.3 1455.5,997.3 1453,994.8 1453,979.5Z M1455.5,1010 1455.5,1010 1458,1012.5 1458,1027.8 1455.5,1030.3 1455.5,1030.3 1453,1027.8 1453,1012.5Z M1455.5,1043 1455.5,1043 1458,1045.5 1458,1060.8 1455.5,1063.3 1455.5,1063.3 1453,1060.8 1453,1045.5Z M1455.5,1076 1455.5,1076 1458,1078.5 1458,1093.8 1455.5,1096.3 1455.5,1096.3 1453,1093.8 1453,1078.5Z M1455.5,1109 1455.5,1109 1458,1111.5 1458,1126.8 1455.5,1129.3 1455.5,1129.3 1453,1126.8 1453,1111.5Z M1455.5,1143 1455.5,1143 1458,1145.5 1458,1160.8 1455.5,1163.3 1455.5,1163.3 1453,1160.8 1453,1145.5Z M1455.5,1176 1455.5,1176 1458,1178.5 1458,1193.8 1455.5,1196.3 1455.5,1196.3 1453,1193.8 1453,1178.5Z M1455.5,1209 1455.5,1209 1458,1211.5 1458,1226.8 1455.5,1229.3 1455.5,1229.3 1453,1226.8 1453,1211.5Z M1455.5,1242 1455.5,1242 1458,1244.5 1458,1259.8 1455.5,1262.3 1455.5,1262.3 1453,1259.8 1453,1244.5Z M1455.5,1276 1455.5,1276 1458,1278.5 1458,1293.8 1455.5,1296.3 1455.5,1296.3 1453,1293.8 1453,1278.5Z M1455.5,1309 1455.5,1309 1458,1311.5 1458,1326.8 1455.5,1329.3 1455.5,1329.3 1453,1326.8 1453,1311.5Z M1455.5,1342 1455.5,1342 1458,1344.5 1458,1362 1453,1362 1453,1344.5Z"/>
<path d="M1384,713 1389,713 1389,730.5 1386.5,733 1386.5,733 1384,730.5Z M1386.5,746 1386.5,746 1389,748.5 1389,763.8 1386.5,766.3 1386.5,766.3 1384,763.8 1384,748.5Z M1386.5,779 1386.5,779 1389,781.5 1389,796.8 1386.5,799.3 1386.5,799.3 1384,796.8 1384,781.5Z M1386.5,812 1386.5,812 1389,814.5 1389,829.8 1386.5,832.3 1386.5,832.3 1384,829.8 1384,814.5Z M1386.5,846 1386.5,846 1389,848.5 1389,863.8 1386.5,866.3 1386.5,866.3 1384,863.8 1384,848.5Z M1386.5,879 1386.5,879 1389,881.5 1389,896.8 1386.5,899.3 1386.5,899.3 1384,896.8 1384,881.5Z M1386.5,912 1386.5,912 1389,914.5 1389,929.8 1386.5,932.3 1386.5,932.3 1384,929.8 1384,914.5Z M1386.5,945 1386.5,945 1389,947.5 1389,962.8 1386.5,965.3 1386.5,965.3 1384,962.8 1384,947.5Z M1386.5,978 1386.5,978 1389,980.5 1389,995.8 1386.5,998.3 1386.5,998.3 1384,995.8 1384,980.5Z M1386.5,1012 1386.5,1012 1389,1014.5 1389,1029.8 1386.5,1032.3 1386.5,1032.3 1384,1029.8 1384,1014.5Z M1386.5,1045 1386.5,1045 1389,1047.5 1389,1062.8 1386.5,1065.3 1386.5,1065.3 1384,1062.8 1384,1047.5Z M1386.5,1078 1386.5,1078 1389,1080.5 1389,1095.8 1386.5,1098.3 1386.5,1098.3 1384,1095.8 1384,1080.5Z M1386.5,1111 1386.5,1111 1389,1113.5 1389,1128.8 1386.5,1131.3 1386.5,1131.3 1384,1128.8 1384,1113.5Z M1386.5,1144 1386.5,1144 1389,1146.5 1389,1161.8 1386.5,1164.3 1386.5,1164.3 1384,1161.8 1384,1146.5Z M1386.5,1178 1386.5,1178 1389,1180.5 1389,1195.8 1386.5,1198.3 1386.5,1198.3 1384,1195.8 1384,1180.5Z M1386.5,1211 1386.5,1211 1389,1213.5 1389,1228.8 1386.5,1231.3 1386.5,1231.3 1384,1228.8 1384,1213.5Z M1386.5,1244 1386.5,1244 1389,1246.5 1389,1261.8 1386.5,1264.3 1386.5,1264.3 1384,1261.8 1384,1246.5Z M1386.5,1277 1386.5,1277 1389,1279.5 1389,1294.8 1386.5,1297.3 1386.5,1297.3 1384,1294.8 1384,1279.5Z M1386.5,1310 1386.5,1310 1389,1312.5 1389,1327.8 1386.5,1330.3 1386.5,1330.3 1384,1327.8 1384,1312.5Z M1386.5,1344 1386.5,1344 1389,1346.5 1389,1358.5 1386.5,1361 1386.5,1361 1384,1358.5 1384,1346.5Z"/>
<path d="M1043,968 1047,968 1047,987.5 1045.5,989 1044.5,989 1043,987.5Z M1044.5,1002 1045.5,1002 1047,1003.5 1047,1020.5 1045.5,1022 1044.5,1022 1043,1020.5 1043,1003.5Z M1044.5,1035 1045.5,1035 1047,1036.5 1047,1053.5 1045.5,1055 1044.5,1055 1043,1053.5 1043,1036.5Z M1044.5,1069 1045.5,1069 1047,1070.5 1047,1087.5 1045.5,1089 1044.5,1089 1043,1087.5 1043,1070.5Z M1044.5,1102 1045.5,1102 1047,1103.5 1047,1120.5 1045.5,1122 1044.5,1122 1043,1120.5 1043,1103.5Z M1044.5,1135 1045.5,1135 1047,1136.5 1047,1153.5 1045.5,1155 1044.5,1155 1043,1153.5 1043,1136.5Z M1044.5,1168 1045.5,1168 1047,1169.5 1047,1186.5 1045.5,1188 1044.5,1188 1043,1186.5 1043,1169.5Z M1044.5,1202 1045.5,1202 1047,1203.5 1047,1220.5 1045.5,1222 1044.5,1222 1043,1220.5 1043,1203.5Z M1044.5,1235 1045.5,1235 1047,1236.5 1047,1253.5 1045.5,1255 1044.5,1255 1043,1253.5 1043,1236.5Z M1044.5,1268 1045.5,1268 1047,1269.5 1047,1286.5 1045.5,1288 1044.5,1288 1043,1286.5 1043,1269.5Z M1044.5,1301 1045.5,1301 1047,1302.5 1047,1319.5 1045.5,1321 1044.5,1321 1043,1319.5 1043,1302.5Z M1044.5,1335 1045.5,1335 1047,1336.5 1047,1353.5 1045.5,1355 1044.5,1355 1043,1353.5 1043,1336.5Z"/>
<path d="M842.5,1228 843.5,1228 845,1229.5 845,1246.5 843.5,1248 842.5,1248 841,1246.5 841,1229.5Z M842.5,1262 843.5,1262 845,1263.5 845,1280.5 843.5,1282 842.5,1282 841,1280.5 841,1263.5Z M842.5,1295 843.5,1295 845,1296.5 845,1313.5 843.5,1315 842.5,1315 841,1313.5 841,1296.5Z M842.5,1328 843.5,1328 845,1329.5 845,1346.5 843.5,1348 842.5,1348 841,1346.5 841,1329.5Z"/>
</g>
<rect x="273" y="63" width="963" height="126" fill="#fff"/>
<text x="301.4" y="158" font-size="86.0" filter="url(#bw)">Characteristic<tspan dx="-1.5"> particle</tspan><tspan dx="-1.9"> size</tspan></text>
<rect x="276" y="206" width="943" height="187" fill="#fff"/>
<g fill="#000" shape-rendering="crispEdges">
<rect x="276" y="206" width="943" height="3"/>
<rect x="276" y="303" width="943" height="2"/>
<rect x="276" y="391" width="943" height="2"/>
<rect x="276" y="206" width="3" height="187"/>
<rect x="512" y="206" width="2" height="187"/>
<rect x="746" y="206" width="3" height="187"/>
<rect x="981" y="206" width="3" height="187"/>
<rect x="1216" y="206" width="3" height="187"/>
</g>
<g font-size="83.3" text-anchor="middle" filter="url(#bw)">
<text x="397.7" y="282.2">d60</text>
<text x="396.4" y="374.8">4.8</text>
<text x="630.6" y="282.2">d50</text>
<text x="631.2" y="374.8">3.7</text>
<text x="866.3" y="282.2">d30</text>
<text x="865.8" y="374.8">0.6</text>
<text x="1100.6" y="282.2">d10</text>
<text x="1100.6" y="374.8">0.22</text>
</g>
<g font-size="86.0" text-anchor="end" filter="url(#bw)">
<text x="206.6" y="80.0">100</text>
<text x="206.6" y="341.9">80</text>
<text x="206.6" y="603.8">60</text>
<text x="206.6" y="865.7">40</text>
<text x="206.6" y="1127.6">20</text>
<text x="206.6" y="1389.5">0</text>
</g>
<clipPath id="imgclip"><rect x="0" y="0" width="2120" height="1584"/></clipPath>
<g clip-path="url(#imgclip)"><g font-size="86.0" text-anchor="middle" filter="url(#bw)">
<text x="225" y="1459">0.01</text>
<text x="685.3" y="1459">0.1</text>
<text x="1143.9" y="1459">1</text>
<text x="1604" y="1459">10</text>
<text x="2063.3" y="1459">100</text>
</g></g>
<text x="1176" y="1549.6" font-size="86.0" text-anchor="middle" filter="url(#bw)">Particle size (mm)</text>
<g filter="url(#bw)"><text transform="translate(75.3,708.3) rotate(-90)" font-size="86.0" text-anchor="middle">Weight percentage (%)</text></g>
</svg>
</body></html>
